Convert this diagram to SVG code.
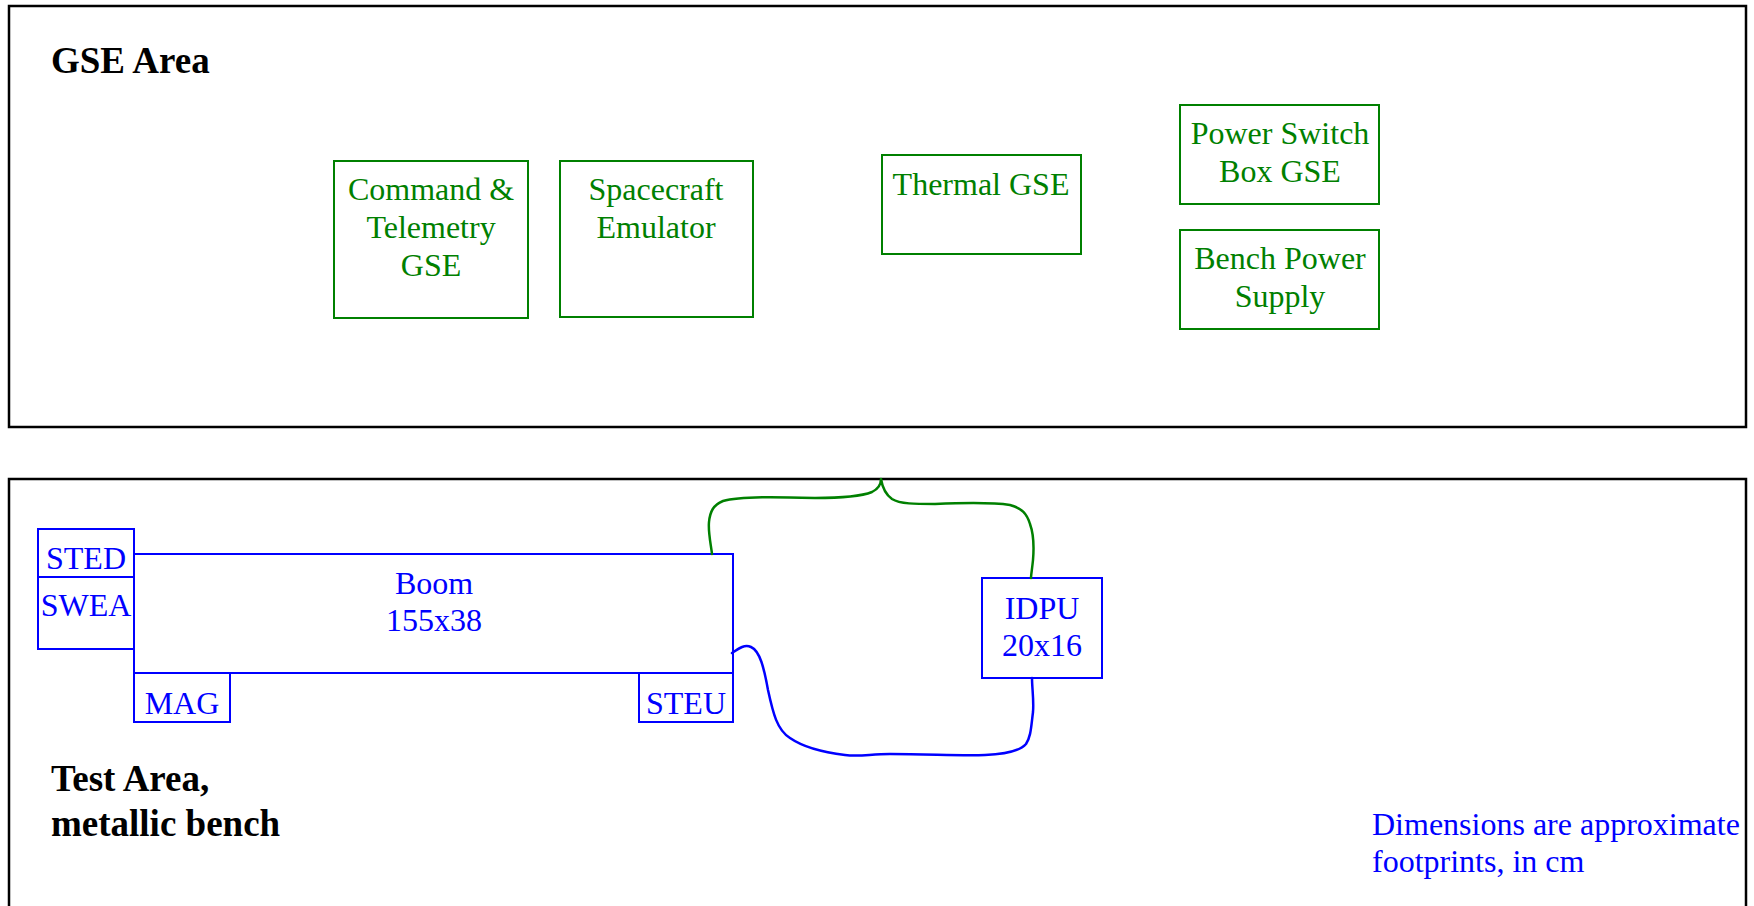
<svg xmlns="http://www.w3.org/2000/svg" width="1754" height="906" viewBox="0 0 1754 906">
  <style>
    .frame { fill: none; stroke: #000; stroke-width: 2.5; }
    .area { font-family: "Liberation Serif", "Times New Roman", serif; font-weight: bold; font-size: 37px; fill: #000; }
    .gse rect { fill: #fff; stroke: #008000; stroke-width: 2; }
    .gse text { font-family: "Liberation Serif", "Times New Roman", serif; font-size: 32px; fill: #008000; text-anchor: middle; }
    .unit rect { fill: #fff; stroke: #0000ff; stroke-width: 2; }
    .unit text { font-family: "Liberation Serif", "Times New Roman", serif; font-size: 32px; fill: #0000ff; text-anchor: middle; }
    .note { font-family: "Liberation Serif", "Times New Roman", serif; font-size: 32px; fill: #0000ff; }
    .cable { fill: none; stroke-width: 2.5; stroke-linecap: round; stroke-linejoin: round; }
  </style>
  <rect width="1754" height="906" fill="#fff"/>

  <!-- GSE area -->
  <g id="gse-area">
    <rect class="frame" x="9" y="6" width="1737" height="421"/>
    <text class="area" x="51" y="73">GSE Area</text>
  </g>

  <g id="cmd-tlm-gse" class="gse">
    <rect x="334" y="161" width="194" height="157"/>
    <text x="431" y="200">Command &amp;</text>
    <text x="431" y="238">Telemetry</text>
    <text x="431" y="276">GSE</text>
  </g>

  <g id="sc-emulator" class="gse">
    <rect x="560" y="161" width="193" height="156"/>
    <text x="656" y="200">Spacecraft</text>
    <text x="656" y="238">Emulator</text>
  </g>

  <g id="thermal-gse" class="gse">
    <rect x="882" y="155" width="199" height="99"/>
    <text x="981" y="195">Thermal GSE</text>
  </g>

  <g id="power-switch-box" class="gse">
    <rect x="1180" y="105" width="199" height="99"/>
    <text x="1280" y="144">Power Switch</text>
    <text x="1280" y="182">Box GSE</text>
  </g>

  <g id="bench-power-supply" class="gse">
    <rect x="1180" y="230" width="199" height="99"/>
    <text x="1280" y="269">Bench Power</text>
    <text x="1280" y="307">Supply</text>
  </g>

  <!-- Test area -->
  <g id="test-area">
    <rect class="frame" x="9" y="479" width="1737" height="440"/>
    <text class="area" x="51" y="791">Test Area,</text>
    <text class="area" x="51" y="836">metallic bench</text>
    <text class="note" x="1372" y="835">Dimensions are approximate</text>
    <text class="note" x="1372" y="872">footprints, in cm</text>
  </g>

  <g id="sted" class="unit">
    <rect x="38" y="529" width="96" height="48"/>
    <text x="86" y="569">STED</text>
  </g>

  <g id="swea" class="unit">
    <rect x="38" y="577" width="96" height="72"/>
    <text x="86" y="616">SWEA</text>
  </g>

  <g id="boom" class="unit">
    <rect x="134" y="554" width="599" height="119"/>
    <text x="434" y="594">Boom</text>
    <text x="434" y="631">155x38</text>
  </g>

  <g id="mag" class="unit">
    <rect x="134" y="673" width="96" height="49"/>
    <text x="182" y="714">MAG</text>
  </g>

  <g id="steu" class="unit">
    <rect x="639" y="673" width="94" height="49"/>
    <text x="686" y="714">STEU</text>
  </g>

  <g id="idpu" class="unit">
    <rect x="982" y="578" width="120" height="100"/>
    <text x="1042" y="619">IDPU</text>
    <text x="1042" y="656">20x16</text>
  </g>

  <!-- Harness -->
  <g id="connectors">
    <!-- GSE harness entering the bench, split to boom and IDPU -->
    <path class="cable" stroke="#008000" d="M712,554 C711,545 708,532 709,522 C710,512 713,505 723,501 C740,496 780,497 815,498 C845,498 862,496 872,492 C878,489 881,484 881,479 C882,485 885,494 892,499 C900,504 915,504 935,504 C960,503 990,502 1010,505 C1022,508 1027,514 1030,524 C1034,535 1034,548 1033,560 C1032,570 1031,575 1031,578"/>
    <!-- Boom to IDPU harness -->
    <path class="cable" stroke="#0000ff" d="M732,653 C738,649 744,644 751,647 C760,651 764,668 768,690 C773,713 777,730 790,738 C803,747 820,752 845,755 C860,757 870,754 890,754 C930,754 960,756 985,755 C1005,754 1020,751 1026,744 C1031,736 1031,728 1033,712 C1034,700 1032,688 1032,678"/>
  </g>
</svg>
